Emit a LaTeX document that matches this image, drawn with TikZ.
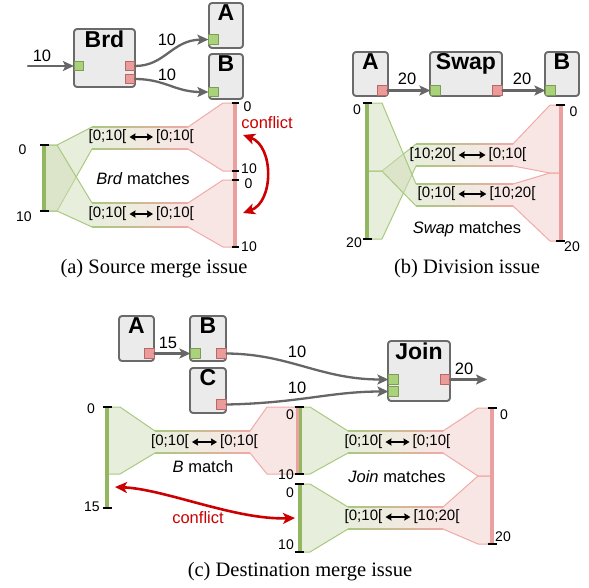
\documentclass[tikz,border=0pt]{standalone}
\usepackage{fontspec}
\setmainfont{Liberation Serif}
\setsansfont{Liberation Sans}
\usetikzlibrary{arrows.meta,positioning}
\definecolor{boxfill}{HTML}{EBEBEB}
\definecolor{boxline}{HTML}{6A6A6A}
\definecolor{flowgray}{HTML}{666666}
\definecolor{pgreen}{HTML}{AAD27C}
\definecolor{pgreenline}{HTML}{7C9C55}
\definecolor{pred}{HTML}{EC9B9B}
\definecolor{predline}{HTML}{B56A6A}
\definecolor{gfill}{RGB}{209,221,185}
\definecolor{rfill}{RGB}{241,205,201}
\definecolor{gmid}{RGB}{232,238,220}
\definecolor{rmid}{RGB}{248,230,228}
\definecolor{gedge}{HTML}{A9C97F}
\definecolor{redge}{HTML}{F0AAA8}
\definecolor{gbarc}{HTML}{93B660}
\definecolor{rbarc}{HTML}{EBA0A0}
\definecolor{confred}{HTML}{CC0000}
% left (green) part of a match band: xa xb xc ya1 ya2 ym1 ym2
\newcommand{\leftfan}[7]{%
  \fill[gfan] (#1,#4)--(#2,#4)--(#3,#6)--(#3,#7)--(#2,#5)--(#1,#5)--cycle;
  \draw[gline] (#1,#4)--(#2,#4)--(#3,#6);
  \draw[gline] (#1,#5)--(#2,#5)--(#3,#7);}
% right (red) part: xd xe xf ym1 ym2 yb1 yb2
\newcommand{\rightfan}[7]{%
  \fill[rfan] (#1,#4)--(#2,#6)--(#3,#6)--(#3,#7)--(#2,#7)--(#1,#5)--cycle;
  \draw[rline] (#1,#4)--(#2,#6)--(#3,#6);
  \draw[rline] (#1,#5)--(#2,#7)--(#3,#7);}
% middle part, green to red
\newcommand{\midband}[4]{%
  \shade[left color=gmid,right color=rmid] (#1,#3) rectangle (#2,#4);
  \shade[left color=gedge,right color=redge] (#1,#3-0.5) rectangle (#2,#3+0.5);
  \shade[left color=gedge,right color=redge] (#1,#4-0.5) rectangle (#2,#4+0.5);}
\begin{document}
\begin{tikzpicture}[x=1pt,y=-1pt,line join=round,line cap=round,
  every node/.style={font=\sffamily},>={Stealth[length=11pt,width=10pt,inset=2.5pt]}]
\tikzset{
  blk/.style={draw=boxline,fill=boxfill,rounded corners=3pt,line width=1.9pt,inner sep=0pt},
  ttl/.style={anchor=north,inner sep=2.5pt,font=\sffamily\bfseries\fontsize{23}{27}\selectfont},
  gport/.style={draw=pgreenline,fill=pgreen,line width=0.7pt,minimum size=9.5pt,inner sep=0pt},
  rport/.style={draw=predline,fill=pred,line width=0.7pt,minimum size=9.5pt,inner sep=0pt},
  flow/.style={draw=flowgray,line width=2.3pt,->,color=flowgray},
  flab/.style={font=\sffamily\fontsize{16.5}{19}\selectfont},
  gfan/.style={fill=gfill,fill opacity=0.5},
  rfan/.style={fill=rfill,fill opacity=0.5},
  gline/.style={draw=gedge,line width=1pt},
  rline/.style={draw=redge,line width=1pt},
  gbar/.style={draw=gbarc,line width=4pt,line cap=butt},
  rbar/.style={draw=rbarc,line width=4pt,line cap=butt},
  tick/.style={draw=black,line width=1.5pt,line cap=butt},
  num/.style={font=\sffamily\fontsize{14}{16}\selectfont,inner sep=0pt},
  rng/.style={font=\sffamily\fontsize{15}{18}\selectfont,inner sep=3pt},
  dbl/.style={{Stealth[length=6pt,width=7pt,inset=0.5pt]}-{Stealth[length=6pt,width=7pt,inset=0.5pt]},line width=1.5pt},
  mtc/.style={font=\sffamily\fontsize{16.5}{19}\selectfont},
  conf/.style={draw=confred,line width=2.6pt,{Stealth[length=12pt,width=11pt,inset=3pt]}-{Stealth[length=12pt,width=11pt,inset=3pt]}},
  conflab/.style={text=confred,font=\sffamily\fontsize{16.5}{19}\selectfont},
  capt/.style={font=\rmfamily\fontsize{20.5}{24}\selectfont}
}
\useasboundingbox (0,0) rectangle (589,587);

% (a) source merge issue
\node[blk,minimum width=61pt,minimum height=58pt,label={[ttl]north:Brd}] (brd) at (104.5,58) {};
\node[blk,minimum width=34pt,minimum height=45pt,label={[ttl]north:A}] (aA) at (226,25.5) {};
\node[blk,minimum width=34pt,minimum height=45pt,label={[ttl]north:B}] (aB) at (226,76.5) {};
\node[gport] (brdin) at (79,66) {};
\node[rport] (brdout1) at (130,66) {};
\node[rport] (brdout2) at (130,79) {};
\node[gport] (aAin) at (213.5,39.5) {};
\node[gport] (aBin) at (213.5,92) {};
\coordinate (asrc) at (28,66);
\draw[flow] (asrc) -- (brdin);
\draw[flow] (brdout1.east) .. controls (165,66) and (172,40) .. (aAin.west);
\draw[flow] (brdout2.east) .. controls (165,79) and (175,92) .. (aBin.west);
\node[flab] (aw0) at (42,56) {10};
\node[flab] (aw1) at (167,40) {10};
\node[flab] (aw2) at (167,75) {10};

\midband{92}{188}{127}{149}
\midband{92}{188}{203}{227}
\leftfan{44}{57}{92}{145}{211}{127}{149}
\leftfan{44}{57}{92}{145}{211}{203}{227}
\rightfan{188}{223}{235}{127}{149}{103}{171}
\rightfan{188}{223}{235}{203}{227}{180}{247}
\draw[gbar] (44,145) -- (44,211);
\draw[rbar] (235,103) -- (235,247);
\foreach \y in {145,211} \draw[tick] (40,\y) -- (49,\y);
\foreach \y in {103,171,180,247} \draw[tick] (231.5,\y) -- (239,\y);
\node[num] (an1) at (22.5,150) {0};
\node[num] (an2) at (24,217) {10};
\node[num] (an3) at (247.5,106.5) {0};
\node[num] (an4) at (249,169) {10};
\node[num] (an5) at (248.5,184) {0};
\node[num] (an6) at (249,247) {10};
\node[rng] (au1) at (107.5,137) {[0;10[};
\node[rng] (au2) at (175,137) {[0;10[};
\draw[dbl] (au1) -- (au2);
\node[rng] (al1) at (107.5,214) {[0;10[};
\node[rng] (al2) at (175,214) {[0;10[};
\draw[dbl] (al1) -- (al2);
\node[mtc] (amt) at (143,179) {\textit{Brd} matches};
\coordinate (ac1) at (243,135);
\coordinate (ac2) at (243,213);
\draw[conf] (ac1) .. controls (274,146) and (274,202) .. (ac2);
\node[conflab] (acl) at (267,122.5) {conflict};
\node[capt] (capa) at (154,269) {(a) Source merge issue};

% (b) division issue
\node[blk,minimum width=35pt,minimum height=44pt,label={[ttl]north:A}] (bA) at (370.5,74) {};
\node[blk,minimum width=72pt,minimum height=44pt,label={[ttl]north:Swap}] (swap) at (466,74) {};
\node[blk,minimum width=34pt,minimum height=44pt,label={[ttl]north:B}] (bB) at (562,74) {};
\node[rport] (bAout) at (382.5,90.5) {};
\node[gport] (swapin) at (435.5,90.5) {};
\node[rport] (swapout) at (497.5,90.5) {};
\node[gport] (bBin) at (550.5,90.5) {};
\draw[flow] (bAout) -- (swapin);
\draw[flow] (swapout) -- (bBin);
\node[flab] (bw1) at (407,79) {20};
\node[flab] (bw2) at (522,79) {20};

\midband{416}{513}{144}{166}
\midband{416}{513}{184}{206}
\leftfan{367}{382}{416}{171}{239}{144}{166}
\leftfan{367}{382}{416}{103}{171}{184}{206}
\rightfan{513}{550}{561}{144}{166}{105}{173}
\rightfan{513}{550}{561}{184}{206}{173}{241}
\draw[gbar] (367,103) -- (367,239);
\draw[rbar] (561,105) -- (561,241);
\foreach \y in {103,239} \draw[tick] (363,\y) -- (372,\y);
\foreach \y in {105,241} \draw[tick] (556,\y) -- (565,\y);
\node[num] (bn1) at (357,110) {0};
\node[num] (bn2) at (354,243) {20};
\node[num] (bn3) at (573.5,112) {0};
\node[num] (bn4) at (572,247) {20};
\node[rng] (bu1) at (432.5,155) {[10;20[};
\node[rng] (bu2) at (507.5,155) {[0;10[};
\draw[dbl] (bu1) -- (bu2);
\node[rng] (bl1) at (436.5,194) {[0;10[};
\node[rng] (bl2) at (512.5,194) {[10;20[};
\draw[dbl] (bl1) -- (bl2);
\node[mtc] (bmt) at (467,229) {\textit{Swap} matches};
\node[capt] (capb) at (467,269) {(b) Division issue};

% (c) destination merge issue
\node[blk,minimum width=35pt,minimum height=45pt,label={[ttl]north:A}] (cA) at (136.5,338.5) {};
\node[blk,minimum width=36pt,minimum height=45pt,label={[ttl]north:B}] (cB) at (208,338.5) {};
\node[blk,minimum width=36pt,minimum height=45pt,label={[ttl]north:C}] (cC) at (208,390.5) {};
\node[blk,minimum width=62pt,minimum height=60pt,label={[ttl]north:Join}] (join) at (419,371) {};
\node[rport] (cAout) at (149.5,353.5) {};
\node[gport] (cBin) at (195.5,353.5) {};
\node[rport] (cBout) at (221.5,353.5) {};
\node[rport] (cCout) at (221.5,404.5) {};
\node[gport] (joinin1) at (393.5,379.5) {};
\node[gport] (joinin2) at (393.5,391.5) {};
\node[rport] (joinout) at (445,379.5) {};
\coordinate (csink) at (487,379.5);
\draw[flow] (cAout) -- (cBin);
\draw[flow] (cBout.east) .. controls (290,354) and (320,379.5) .. (joinin1.west);
\draw[flow] (cCout.east) .. controls (300,403) and (330,391.5) .. (joinin2.west);
\draw[flow] (joinout) -- (csink);
\node[flab] (cw1) at (168,343) {15};
\node[flab] (cw2) at (297,352) {10};
\node[flab] (cw3) at (297,388) {10};
\node[flab] (cw4) at (464,369) {20};

\midband{155}{250}{431}{453}
\leftfan{107}{120}{155}{407}{474}{431}{453}
\rightfan{250}{267}{297}{431}{453}{407}{474}
\midband{348}{443}{431}{453}
\midband{348}{443}{507}{529}
\leftfan{300}{310}{348}{407}{474}{431}{453}
\leftfan{300}{310}{348}{484}{552}{507}{529}
\rightfan{443}{478}{492}{431}{453}{408}{476}
\rightfan{443}{478}{492}{507}{529}{476}{544}
\draw[gbar,line width=3pt] (300.5,407) -- (300.5,474);
\draw[rbar,line width=3pt] (297.5,407) -- (297.5,474);
\draw[gbar] (107,407) -- (107,508);
\draw[gbar] (300,484) -- (300,552);
\draw[rbar] (492,408) -- (492,544);
\foreach \y in {407,508} \draw[tick] (103,\y) -- (112,\y);
\foreach \y in {407,474,484,552} \draw[tick] (294.5,\y) -- (303.5,\y);
\foreach \y in {408,544} \draw[tick] (487.5,\y) -- (496.5,\y);
\node[num] (cn1) at (91,409) {0};
\node[num] (cn2) at (92,507) {15};
\node[num] (cn3) at (290,415) {0};
\node[num] (cn4) at (286,475) {10};
\node[num] (cn5) at (290,493) {0};
\node[num] (cn6) at (286,545) {10};
\node[num] (cn7) at (504,415) {0};
\node[num] (cn8) at (503,537) {20};
\node[rng] (cb1) at (170,442) {[0;10[};
\node[rng] (cb2) at (239,442) {[0;10[};
\draw[dbl] (cb1) -- (cb2);
\node[rng] (cu1) at (363.5,442) {[0;10[};
\node[rng] (cu2) at (431.5,442) {[0;10[};
\draw[dbl] (cu1) -- (cu2);
\node[rng] (cl1) at (363.5,517) {[0;10[};
\node[rng] (cl2) at (436.5,517) {[10;20[};
\draw[dbl] (cl1) -- (cl2);
\node[mtc] (cbm) at (203,467) {\textit{B} match};
\node[mtc] (cjm) at (397,477) {\textit{Join} matches};
\coordinate (cc1) at (115,487);
\coordinate (cc2) at (295,518);
\draw[conf] (cc1) .. controls (165,489) and (235,520) .. (cc2);
\node[conflab] (ccl) at (198,518) {conflict};
\node[capt] (capc) at (300,572) {(c) Destination merge issue};
\end{tikzpicture}
\end{document}
